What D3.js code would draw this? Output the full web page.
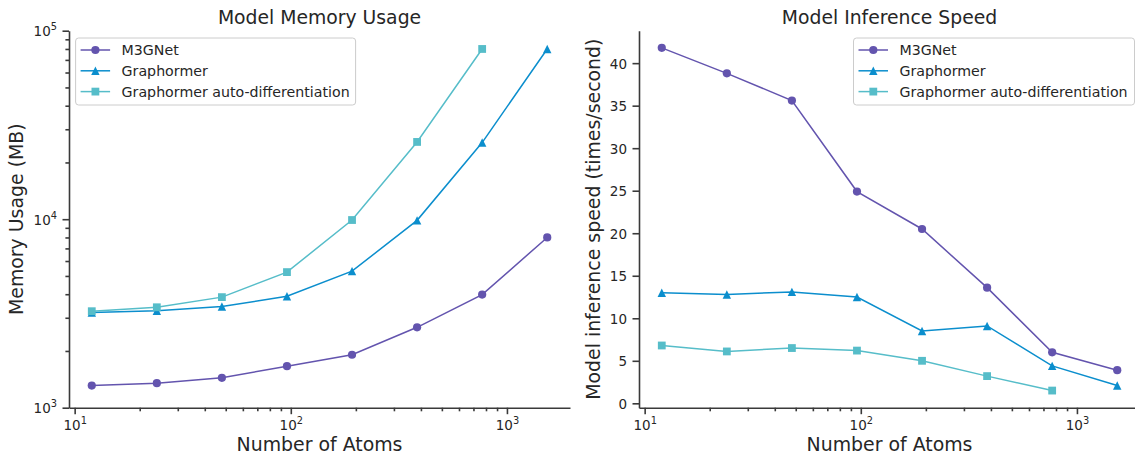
<!DOCTYPE html>
<html lang="en">
<head>
<meta charset="UTF-8">
<title>Model Memory Usage / Model Inference Speed</title>
<style>
  body { margin: 0; background: #fff; }
  svg { display: block; font-family: "DejaVu Sans", sans-serif; }
  .axis path, .axis line { stroke: #3a3a3a; stroke-width: 1.6px; }
  .axis .minor line { stroke-width: 1.2px; }
  .axis text { fill: #262626; font-size: 13.5px; font-family: "DejaVu Sans", sans-serif; }
  .title { fill: #262626; font-size: 18.8px; }
  .label { fill: #262626; font-size: 18.9px; }
  .legend text { fill: #262626; font-size: 14.2px; }
</style>
</head>
<body>
<svg id="chart" width="1135" height="454"></svg>
<script src="https://d3js.org/d3.v7.min.js"></script>
<script>
// --- values ---
const atoms = [12, 24, 48, 96, 192, 384, 768, 1536];
const seriesNames = ["M3GNet", "Graphormer", "Graphormer auto-differentiation"];

const memM3GNet = [1310, 1350, 1440, 1660, 1910, 2670, 3980, 8000];
const memGraphormer = [3200, 3270, 3440, 3900, 5300, 9860, 25500, 80000];
const memAutoDiff = [3250, 3410, 3860, 5240, 9900, 25700, 80000];

const speedM3GNet = [41.8, 38.8, 35.6, 24.9, 20.5, 13.6, 6.0, 3.9];
const speedGraphormer = [13.0, 12.8, 13.1, 12.5, 8.5, 9.1, 4.4, 2.1];
const speedAutoDiff = [6.8, 6.1, 6.5, 6.2, 5.0, 3.2, 1.5];

const xTicks = [10, 100, 1000];
const memTicks = [1e3, 1e4, 1e5];
const speedTicks = [0, 5, 10, 15, 20, 25, 30, 35, 40];

// --- styling ---
const colors = ["#6354ae", "#0b8ecd", "#56bdc9"];
const MS = 8.2; // marker size in px (matplotlib style: width = height = MS)

// matplotlib-like triangle: width MS, height MS, centred on the box
const triangle = {
  draw(ctx, size) {
    const h = Math.sqrt(size) / 2;
    ctx.moveTo(0, -h);
    ctx.lineTo(h, h);
    ctx.lineTo(-h, h);
    ctx.closePath();
  }
};
const square = {
  draw(ctx, size) {
    const h = Math.sqrt(size) / 2;
    ctx.rect(-h, -h, 2 * h, 2 * h);
  }
};
const symbols = [
  d3.symbol().type(d3.symbolCircle).size(Math.PI * (MS / 2) * (MS / 2)),
  d3.symbol().type(triangle).size((MS + 0.2) * (MS + 0.2)),
  d3.symbol().type(square).size((MS - 0.4) * (MS - 0.4))
];

const svg = d3.select("#chart");
svg.append("rect").attr("width", 1135).attr("height", 454).attr("fill", "#fff");

const plotTop = 30.7, plotBottom = 407.7;

// log x domain with matplotlib's 5% margin (in log space)
function logDomain(vals) {
  const lo = Math.log10(d3.min(vals)), hi = Math.log10(d3.max(vals));
  const pad = 0.05 * (hi - lo);
  return [Math.pow(10, lo - pad), Math.pow(10, hi + pad)];
}
function linDomain(vals) {
  const lo = d3.min(vals), hi = d3.max(vals);
  const pad = 0.05 * (hi - lo);
  return [lo - pad, hi + pad];
}
function minorLogTicks(domain) {
  const out = [];
  for (let k = -1; k < 7; k++) {
    for (let m = 2; m <= 9; m++) {
      const v = m * Math.pow(10, k);
      if (v >= domain[0] && v <= domain[1]) out.push(v);
    }
  }
  return out;
}
function powerLabel(sel) {
  sel.each(function(d) {
    const t = d3.select(this);
    const e = Math.round(Math.log10(d));
    t.text(null);
    t.append("tspan").text("10");
    t.append("tspan").attr("dy", -5.6).style("font-size", "9.8px").text(e);
  });
}

function panel(p) {
  const x = d3.scaleLog().domain(logDomain(atoms)).range([p.x0, p.x1]);
  const y = p.y;
  const g = svg.append("g");

  // x axis: minor + major ticks
  const xDom = x.domain();
  g.append("g").attr("class", "axis minor")
    .attr("transform", `translate(0,${plotBottom})`)
    .call(d3.axisBottom(x).tickValues(minorLogTicks(xDom)).tickSize(3.6).tickSizeOuter(0).tickFormat(""))
    .call(a => a.select(".domain").remove());
  const xa = g.append("g").attr("class", "axis")
    .attr("transform", `translate(0,${plotBottom})`)
    .call(d3.axisBottom(x).tickValues(xTicks).tickSize(6.5).tickSizeOuter(0));
  xa.selectAll(".tick text").attr("y", 22.3).attr("dy", null).call(powerLabel);

  // y axis
  if (p.logY) {
    g.append("g").attr("class", "axis minor")
      .attr("transform", `translate(${p.x0},0)`)
      .call(d3.axisLeft(y).tickValues(minorLogTicks(y.domain())).tickSize(3.6).tickSizeOuter(0).tickFormat(""))
      .call(a => a.select(".domain").remove());
  }
  const ya = g.append("g").attr("class", "axis")
    .attr("transform", `translate(${p.x0},0)`)
    .call(d3.axisLeft(y).tickValues(p.yTicks).tickSize(6.5).tickSizeOuter(0).tickPadding(5.5));
  ya.selectAll(".tick text").attr("dy", "0.36em");
  if (p.logY) ya.selectAll(".tick text").call(powerLabel);

  // series
  const line = d3.line().x(d => x(d[0])).y(d => y(d[1]));
  p.series.forEach((vals, i) => {
    const pts = vals.map((v, j) => [atoms[j], v]);
    g.append("path").datum(pts)
      .attr("d", line)
      .attr("fill", "none")
      .attr("stroke", colors[i])
      .attr("stroke-width", 1.5);
    g.selectAll(null).data(pts).enter().append("path")
      .attr("d", symbols[i])
      .attr("transform", d => `translate(${x(d[0])},${y(d[1])})`)
      .attr("fill", colors[i]);
  });

  // title and axis labels
  const cx = (p.x0 + p.x1) / 2;
  svg.append("text").attr("class", "title")
    .attr("x", cx).attr("y", 24).attr("text-anchor", "middle").text(p.title);
  svg.append("text").attr("class", "label")
    .attr("x", cx).attr("y", 451).attr("text-anchor", "middle").text("Number of Atoms");
  svg.append("text").attr("class", "label")
    .attr("transform", `translate(${p.ylabX},${(plotTop + plotBottom) / 2}) rotate(-90)`)
    .attr("text-anchor", "middle").text(p.ylabel);

  // legend
  const lg = svg.append("g").attr("class", "legend")
    .attr("transform", `translate(${p.legX},38)`);
  lg.append("rect")
    .attr("width", p.legW).attr("height", 67).attr("rx", 3)
    .attr("fill", "#fff").attr("fill-opacity", 0.8)
    .attr("stroke", "#cccccc").attr("stroke-width", 1);
  seriesNames.forEach((name, i) => {
    const ry = 12 + i * 20.8;
    lg.append("line").attr("x1", 5).attr("x2", 34.5).attr("y1", ry).attr("y2", ry)
      .attr("stroke", colors[i]).attr("stroke-width", 1.5);
    lg.append("path").attr("d", symbols[i])
      .attr("transform", `translate(19.8,${ry})`).attr("fill", colors[i]);
    lg.append("text").attr("x", 46).attr("y", ry).attr("dy", "0.36em").text(name);
  });
}

panel({
  x0: 69, x1: 570,
  y: d3.scaleLog().domain([memTicks[0], memTicks[memTicks.length - 1]]).range([plotBottom, plotTop]),
  logY: true,
  yTicks: memTicks,
  series: [memM3GNet, memGraphormer, memAutoDiff],
  title: "Model Memory Usage",
  ylabel: "Memory Usage (MB)",
  ylabX: 23,
  legX: 75.6, legW: 280
});

panel({
  x0: 639, x1: 1140,
  y: d3.scaleLinear()
    .domain(linDomain(speedM3GNet.concat(speedGraphormer, speedAutoDiff)))
    .range([plotBottom, plotTop]),
  logY: false,
  yTicks: speedTicks,
  series: [speedM3GNet, speedGraphormer, speedAutoDiff],
  title: "Model Inference Speed",
  ylabel: "Model inference speed (times/second)",
  ylabX: 600,
  legX: 853.5, legW: 281
});
</script>
</body>
</html>
